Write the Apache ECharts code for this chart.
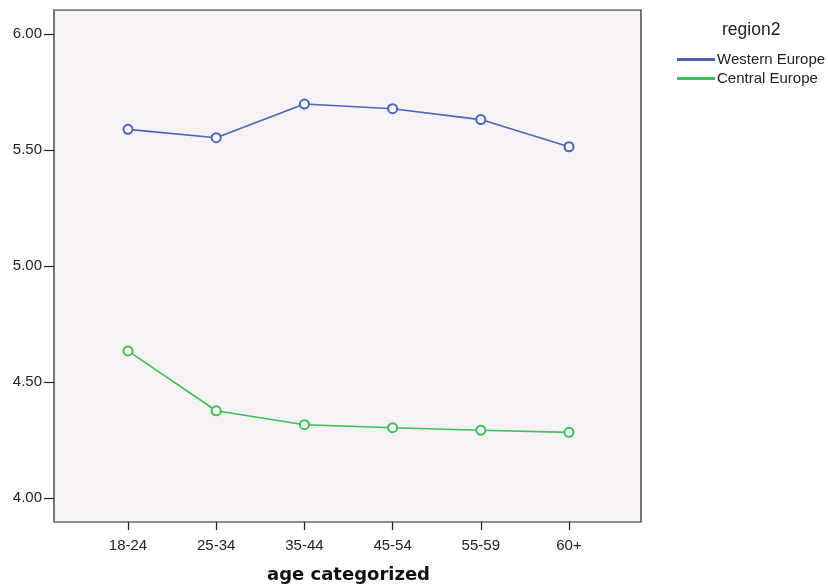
<!DOCTYPE html>
<html>
<head>
<meta charset="utf-8">
<script src="https://cdn.jsdelivr.net/npm/echarts@6/dist/echarts.min.js"></script>
<style>
  html, body { margin: 0; padding: 0; background: #fff; }
  #main { width: 828px; height: 585px; }
</style>
</head>
<body>
<div id="main"></div>
<script>
// age groups on the x axis
var ageGroups = ['18-24', '25-34', '35-44', '45-54', '55-59', '60+'];
// mean values
var westernEurope = [5.589, 5.553, 5.698, 5.678, 5.631, 5.514];
var centralEurope = [4.634, 4.376, 4.316, 4.303, 4.292, 4.283];
var seriesNames = ['Western Europe', 'Central Europe'];
var seriesColors = ['#4a64b6', '#3cbf55'];

var labelFont = 'Arial, "Liberation Sans", sans-serif';

function lineSeries(i, values) {
	return {
		name: seriesNames[i],
		type: 'line',
		xAxisIndex: 1,
		yAxisIndex: 1,
		data: values,
		symbol: 'emptyCircle',
		symbolSize: 9,
		showSymbol: true,
		lineStyle: { color: seriesColors[i], width: 1.6 },
		itemStyle: { color: seriesColors[i], borderColor: seriesColors[i], borderWidth: 1.3 },
		z: 3
	};
}

var option = {
	animation: false,
	title: {
		text: 'region2',
		left: 717,
		top: 16,
		textStyle: { fontFamily: labelFont, fontSize: 17.5, fontWeight: 'normal', color: '#222' }
	},
	legend: {
		orient: 'vertical',
		left: 672,
		top: 47,
		itemWidth: 36,
		itemHeight: 1.2,
		itemGap: 4,
		icon: 'rect',
		data: seriesNames,
		textStyle: { fontFamily: labelFont, fontSize: 15, color: '#222', padding: [0, 0, 0, -2] }
	},
	grid: [
		// frame of the plot area
		{ left: 54, right: 187, top: 10, bottom: 63, show: true, outerBoundsMode: 'none',
		  backgroundColor: '#f6f2f6', borderColor: '#222', borderWidth: 1.2, z: 0 },
		// inner grid holding the data
		{ left: 128, right: 259, top: 34, bottom: 87, outerBoundsMode: 'none' }
	],
	xAxis: [
		{ gridIndex: 0, type: 'value', show: false, min: 0, max: 1 },
		{
			gridIndex: 1,
			type: 'category',
			data: ageGroups,
			boundaryGap: false,
			offset: 24,
			axisLine: { show: false },
			axisTick: { show: true, length: 8, alignWithLabel: true, lineStyle: { color: '#222', width: 1.2 } },
			axisLabel: { fontFamily: labelFont, fontSize: 15, color: '#222', margin: 16 },
			name: 'age categorized',
			nameLocation: 'middle',
			nameGap: 44,
			nameTextStyle: { fontFamily: '"DejaVu Sans", sans-serif', fontSize: 18, fontWeight: 'bold', color: '#111' }
		}
	],
	yAxis: [
		{ gridIndex: 0, type: 'value', show: false, min: 0, max: 1 },
		{
			gridIndex: 1,
			type: 'value',
			min: 4,
			max: 6,
			interval: 0.5,
			offset: 74,
			axisLine: { show: false },
			axisTick: { show: true, length: 10, lineStyle: { color: '#222', width: 1.2 } },
			axisLabel: {
				fontFamily: labelFont, fontSize: 15, color: '#222', margin: 12,
				formatter: function (v) { return v.toFixed(2); }
			},
			splitLine: { show: false }
		}
	],
	series: [
		lineSeries(0, westernEurope),
		lineSeries(1, centralEurope)
	]
};

var myChart = echarts.init(document.getElementById('main'));
myChart.setOption(option);
</script>
</body>
</html>
